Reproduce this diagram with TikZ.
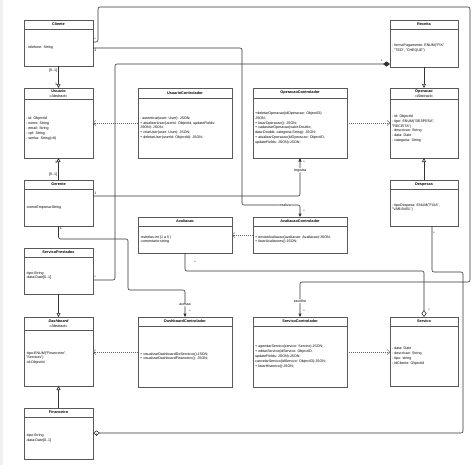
\documentclass[tikz,border=0pt]{standalone}
\usepackage{fontspec}
\setmainfont{Liberation Sans}
\usetikzlibrary{arrows.meta,shadows}

% class box: name, x, y, width, height, header height, title, members
\newcommand{\umlclass}[8]{%
  \node[classbox, minimum width=#4pt, minimum height=#5pt] (#1) at (#2,#3) {};
  \draw[classrule] ([yshift=-#6pt]#1.north west) -- ([yshift=-#6pt]#1.north east);
  \node[classtitle] (#1-title) at ([yshift=-#6pt/2]#1.north) {#7};
  \node[classbody] (#1-body) at ([xshift=2pt,yshift=-#6pt/2]#1.west) {#8};
}
\newcommand{\abstr}{\mdseries\textless\textless Abstract\textgreater\textgreater}

\begin{document}
\begin{tikzpicture}[x=1pt, y=-1pt,
    classbox/.style={draw=black!65, fill=white, line width=0.5pt, anchor=north west,
      inner sep=0pt, outer sep=0pt,
      general shadow={fill=black!12, shadow xshift=1.2pt, shadow yshift=-1.2pt}},
    classrule/.style={draw=black!65, line width=0.5pt},
    classtitle/.style={font=\fontsize{3.8}{4.6}\selectfont\bfseries, align=center, inner sep=0pt},
    classbody/.style={font=\fontsize{3.6}{4.8}\selectfont, align=left, anchor=west, inner sep=0pt},
    link/.style={draw=black!80, line width=0.6pt, rounded corners=2pt},
    gen/.style={link, -{Triangle[open, length=4pt, width=4pt]}},
    nav/.style={link, -{Triangle[length=3.5pt, width=3pt]}},
    dep/.style={draw=black!60, line width=0.5pt, dash pattern=on 1pt off 1pt,
      -{Straight Barb[length=2.5pt, width=5pt]}},
    comp/.style={link, -{Diamond[length=7pt, width=5pt]}},
    aggr/.style={link, -{Diamond[open, length=7pt, width=5pt, fill=white]}},
    mult/.style={font=\fontsize{3.6}{4}\selectfont, inner sep=1pt},
    role/.style={font=\fontsize{3.6}{4}\selectfont, fill=white, inner sep=0.5pt}]

    % Canvas
    \fill[white] (0,0) rectangle (474,474);
    \fill[black!6] (0,0) rectangle (3,465);
    \useasboundingbox (0,0) rectangle (474,474);

    % Left column
    \umlclass{cliente}{24}{20}{69}{46}{9}{Cliente}{- telefone: String}
    \umlclass{usuario}{24}{88}{69}{70}{11}{Usuario\\\abstr}{- id: ObjectId\\- nome: String\\- email: String\\- cpf: String\\- senha: String(>8)}
    \umlclass{gerente}{24}{180}{69}{46}{9}{Gerente}{-nomeEmpresa:String}
    \umlclass{servprest}{24}{248}{69}{46}{9}{ServicoPrestados}{-tipo:String\\-data:Date[0..1]}
    \umlclass{dashboard}{24}{317}{69}{69}{13}{\itshape Dashboard\\\upshape\abstr}{-tipo:ENUM("Financeiro",\\"Servicos")\\-id:ObjectId}
    \umlclass{financeiro}{24}{408}{69}{51}{9}{Financeiro}{-tipo:String\\-data:Date[0..1]}

    % Middle columns
    \umlclass{usuarioctrl}{138}{88}{94}{70}{10}{UsuarioControlador}{- autenticar(user: User): JSON;\\+ atualizarUser(userId: ObjectId, updateFields:\\JSON): JSON;\\+ criarUser(user: User): JSON;\\+ deletarUser(userId: ObjectId): JSON;}
    \umlclass{operacaoctrl}{253}{88}{94}{70}{10}{OperacaoControlador}{+deletarOperacao(idOperacao: ObjectID):\\JSON;\\+ listarOperacao(): JSON;\\+ cadastrarOperacao(valor:Double,\\data:Double, categoria:String): JSON;\\+ atualizarOperacao(idOperacao: ObjectID,\\updateFields: JSON):JSON;}
    \umlclass{avaliacao}{138}{217}{94}{36}{9}{Avaliacao}{-estrelas:int (1 a 5 )\\-comentario:string}
    \umlclass{avaliacaoctrl}{253}{217}{94}{36}{9}{AvaliacaoControlador}{+ enviarAvaliacao(avaliacao: Avaliacao):JSON;\\+ listarAvaliacoes():JSON;}
    \umlclass{dashboardctrl}{138}{317}{94}{70}{9}{DashboardControlador}{+ visualizarDashboardDeServicos():JSON;\\+ visualizarDashboardFinanceiro(): JSON;}
    \umlclass{servicoctrl}{253}{317}{94}{70}{9}{ServicoControlador}{+ agendarServico(servico: Servico):JSON;\\+ editarServico(idServico: ObjectID,\\updateFields: JSON):JSON;\\cancelarServico(idServico: ObjectID):JSON;\\+ listarHistorico():JSON;}

    % Right column
    \umlclass{receita}{390}{20}{68}{47}{9}{Receita}{- formaPagamento: ENUM("PIX"\\, "TED", "CHEQUE")}
    \umlclass{operacao}{390}{88}{68}{70}{11}{Operacao\\\abstr}{- id: ObjectId\\- tipo: ENUM("DESPESA",\\"RECEITA")\\- descricao: String\\- data: Date\\- categoria: String}
    \umlclass{despesas}{390}{180}{68}{46}{9}{Despesas}{- tipoDespesa: ENUM("FIXA",\\"VARIÁVEL")}
    \umlclass{servico}{390}{317}{68}{69}{9}{Servico}{- data: Date\\- descricao: String\\- tipo: string\\- idCliente: ObjectId}

    % Generalizations
    \draw[gen] (cliente.south) -- node[mult, pos=0.2, left] {[0..1]} node[mult, pos=0.82, left] {1} (usuario.north);
    \draw[gen] (gerente.north) -- node[mult, pos=0.25, left] {[0..1]} node[mult, pos=0.82, left] {1} (usuario.south);
    \draw[gen] (receita.south) -- (operacao.north);
    \draw[gen] (despesas.north) -- (operacao.south);
    \draw[gen] (servprest.south) -- (dashboard.north);
    \draw[gen] (financeiro.north) -- (dashboard.south);

    % Controllers use their classes
    \draw[dep] (usuarioctrl.west) -- (usuarioctrl.west -| usuario.east);
    \draw[dep] (operacaoctrl.east) -- (operacaoctrl.east -| operacao.west);
    \draw[dep] (avaliacaoctrl.west) -- (avaliacaoctrl.west -| avaliacao.east);
    \draw[dep] (dashboardctrl.west) -- (dashboardctrl.west -| dashboard.east);
    \draw[dep] (servicoctrl.east) -- (servicoctrl.east -| servico.west);

    % Associations
    \draw[nav] (cliente.east |- 0,42) node[mult, above right] {*} -- (98,42) -- (98,7) -- (470,7) -- (470,282)
        -- (servicoctrl.north |- 0,282) -- node[role, pos=0.55] {escolhe} node[mult, pos=0.85, right=2pt] {*} (servicoctrl.north);
    \draw[nav] (cliente.east |- 0,48) node[mult, below right] {1} -- (242,48) -- (242,205)
        -- node[role, pos=0.75] {realiza} (avaliacaoctrl.north |- 0,205) -- node[mult, pos=0.5, right=2pt] {*} (avaliacaoctrl.north);
    \draw[nav] (gerente.east |- 0,196) node[mult, above right] {1} -- (operacaoctrl.south |- 0,196)
        -- node[role, pos=0.68] {registra} node[mult, pos=0.9, right=2pt] {*} (operacaoctrl.south);
    \draw[nav] (gerente.south) node[mult, below right] {1} -- (gerente.south |- 0,239) -- (128,239) -- (128,290)
        -- (dashboardctrl.north |- 0,290) -- node[role, pos=0.55] {acessa} node[mult, pos=0.8, right=3pt] {*} (dashboardctrl.north);
    \draw[comp] (servprest.east |- 0,280) node[mult, above right] {*} -- (115,280) -- (115,64)
        -- node[mult, pos=0.97, above] {*} (receita.west |- 0,64);
    \draw[aggr] (avaliacao.south) -- node[mult, pos=0.5, right=8pt] {*} (avaliacao.south |- 0,271)
        -- (servico.north |- 0,271) -- node[mult, pos=0.85, right=3pt] {*} (servico.north);
    \draw[aggr] ([xshift=8pt]despesas.south) -- node[mult, pos=0.15, right] {*} (432,272) -- (463,272) -- (463,433)
        -- node[mult, pos=0.99, below] {1} (financeiro.east |- 0,433);
\end{tikzpicture}
\end{document}
